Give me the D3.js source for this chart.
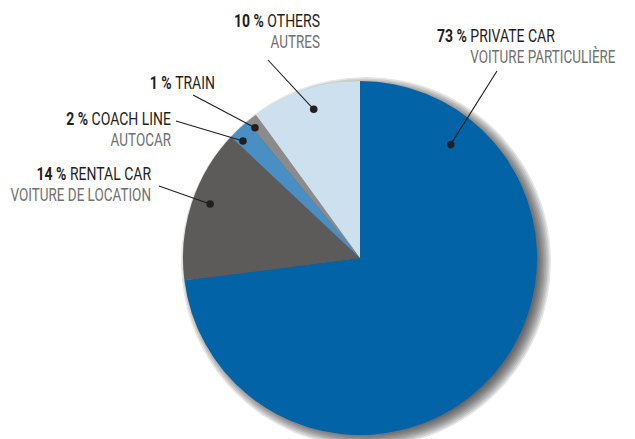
<!DOCTYPE html>
<html>
<head>
<meta charset="utf-8">
<script src="https://cdn.jsdelivr.net/npm/d3@7"></script>
<style>
  html, body { margin: 0; padding: 0; background: #fff; }
  svg { display: block; }
  text { font-family: Roboto, "Liberation Sans", sans-serif; font-size: 17.5px; }
  .pct { font-weight: bold; fill: #1f1d1e; }
  .name { fill: #1f1d1e; }
  .fr { fill: #707070; }
</style>
</head>
<body>
<script>
// Modal split of trips (share in %), clockwise from 12 o'clock
const categories = ["PRIVATE CAR", "RENTAL CAR", "COACH LINE", "TRAIN", "OTHERS"];
const frenchNames = ["VOITURE PARTICULIÈRE", "VOITURE DE LOCATION", "AUTOCAR", "", "AUTRES"];
const shares = [73, 14, 2, 1, 10];
const colors = ["#0263a6", "#5c5b5a", "#4a8fc4", "#8b8b8b", "#cde0ee"];

// Label layout: text anchor point, alignment, leader start,
// and where the leader dot sits (fraction across the slice, fraction of radius)
const labelLayout = [
  { x: 437, y: 42, align: "start", frUnderName: true, lx: 497, ly: 71, t: 0.147, r: 0.82 },
  { x: 151, y: 180, align: "end", lx: 159, ly: 186, t: 0.536, r: 0.90 },
  { x: 171, y: 125, align: "end", lx: 176, ly: 121, t: 0.25, r: 0.935 },
  { x: 215, y: 89, align: "end", lx: 193, ly: 95, t: 0.2, r: 0.945 },
  { x: 320, y: 27, align: "end", lx: 268, ly: 60, t: 0.52, r: 0.88 }
];

const W = 635, H = 439;
const cx = 360, cy = 258, R = 177;
const squeeze = 0.8;    // condensed lettering
const squeezeFr = 0.77;

const svg = d3.select("body").append("svg").attr("width", W).attr("height", H);

const data = categories.map((c, i) => ({ cat: c, fr: frenchNames[i], value: shares[i], color: colors[i], lab: labelLayout[i] }));

const pie = d3.pie().value(d => d.value).sort(null);
const arcs = pie(data);
const arc = d3.arc().innerRadius(0).outerRadius(R);

const g = svg.append("g").attr("transform", `translate(${cx},${cy})`);

// Drop shadow built from stacked translucent discs, offset down-right
const shadowSteps = d3.range(0, 10);
g.append("g").attr("class", "shadow")
  .selectAll("circle").data(shadowSteps).join("circle")
  .attr("cx", 6).attr("cy", 4)
  .attr("r", k => R + 8 - k * 1.6)
  .attr("fill", "#2a2a2a")
  .attr("fill-opacity", 0.12);

g.selectAll("path.slice").data(arcs).join("path")
  .attr("class", "slice")
  .attr("d", arc)
  .attr("fill", d => d.data.color);

// Leader dots inside each slice
const dots = arcs.map(a => {
  const L = a.data.lab;
  const ang = a.startAngle + (a.endAngle - a.startAngle) * L.t;
  const rr = R * L.r;
  return { x: cx + Math.sin(ang) * rr, y: cy - Math.cos(ang) * rr, d: a.data };
});

const leaders = svg.append("g");
dots.forEach(p => {
  leaders.append("line")
    .attr("x1", p.d.lab.lx).attr("y1", p.d.lab.ly)
    .attr("x2", p.x).attr("y2", p.y)
    .attr("stroke", "#1f1d1e").attr("stroke-width", 1.1);
  leaders.append("circle")
    .attr("cx", p.x).attr("cy", p.y).attr("r", 3.8)
    .attr("fill", "#231f20");
});

const labels = svg.append("g");
data.forEach(d => {
  const lg = labels.append("g")
    .attr("transform", `translate(${d.lab.x},${d.lab.y}) scale(${squeeze},1)`);
  const t = lg.append("text").attr("text-anchor", d.lab.align);
  const pct = t.append("tspan").attr("class", "pct").text(d.value + " % ");
  t.append("tspan").attr("class", "name").text(d.cat);
  if (d.fr) {
    const fx = d.lab.frUnderName ? pct.node().getComputedTextLength() * squeeze : 0;
    labels.append("text")
      .attr("class", "fr")
      .attr("transform", `translate(${d.lab.x + fx},${d.lab.y + 21}) scale(${squeezeFr},1)`)
      .attr("text-anchor", d.lab.align)
      .text(d.fr);
  }
});
</script>
</body>
</html>
